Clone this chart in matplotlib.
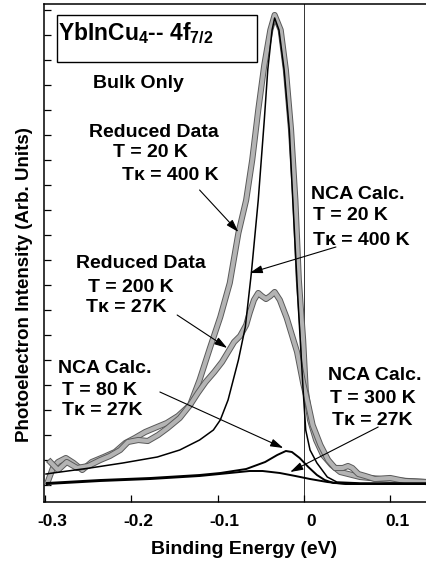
import matplotlib
matplotlib.use('Agg')
import matplotlib.pyplot as plt
import matplotlib.patheffects as pe
from matplotlib.patches import Rectangle
from matplotlib.ticker import MultipleLocator
import matplotlib.transforms as mtrans

# binding energy (eV) and intensity (arb. units)
e_data20 = [-0.297, -0.291, -0.285, -0.276, -0.267, -0.257, -0.246, -0.232, -0.219, -0.207,
            -0.196, -0.184, -0.173, -0.159, -0.146, -0.132, -0.121, -0.109, -0.097, -0.086,
            -0.076, -0.067, -0.060, -0.053, -0.046, -0.039, -0.034, -0.027, -0.021, -0.015,
            -0.010, -0.006, -0.001, 0.002, 0.007, 0.014, 0.022, 0.032, 0.042, 0.065, 0.100, 0.141]
i_data20 = [-22, -8, -2, 2, -3, -10, -2, 3, 8, 17,
            22, 28, 32, 37, 44, 55, 80, 112, 143, 177,
            227, 260, 300, 350, 395, 430, 445, 430, 390, 330,
            260, 180, 120, 70, 40, 20, 5, -5, -12, -17, -20, -22]

e_data200 = [-0.294, -0.285, -0.275, -0.263, -0.250, -0.236, -0.225, -0.213, -0.204, -0.192,
             -0.181, -0.169, -0.158, -0.144, -0.132, -0.123, -0.114, -0.104, -0.095, -0.088,
             -0.081, -0.074, -0.067, -0.063, -0.058, -0.053, -0.049, -0.044, -0.039, -0.034,
             -0.028, -0.020, -0.014, -0.008, -0.001, 0.005, 0.010, 0.019, 0.028, 0.036,
             0.045, 0.051, 0.056, 0.063, 0.071, 0.082, 0.100, 0.117, 0.141]
i_data200 = [-2, -10, -2, -8, -6, 0, 4, 10, 18, 20,
             19, 25, 32, 42, 55, 67, 78, 88, 98, 108,
             118, 124, 135, 147, 160, 167, 164, 161, 164, 168,
             160, 142, 125, 108, 77, 55, 35, 15, 0, -8,
             -8, -6, -8, -14, -16, -19, -18, -21, -22]

e_nca20 = [-0.299, -0.291, -0.248, -0.210, -0.170, -0.144, -0.121, -0.105, -0.097, -0.088,
           -0.076, -0.068, -0.061, -0.053, -0.046, -0.042, -0.037, -0.034, -0.029, -0.023,
           -0.017, -0.013, -0.007, -0.001, 0.002, 0.007, 0.015, 0.027, 0.038, 0.065, 0.141]
i_nca20 = [-14, -13, -8, -3, 3, 10, 20, 30, 40, 60,
           100, 133, 187, 260, 340, 390, 430, 442, 430, 390,
           330, 260, 160, 70, 30, 10, -3, -17, -22, -23, -23]

e_nca80 = [-0.298, -0.236, -0.178, -0.121, -0.097, -0.067, -0.045, -0.031, -0.021, -0.014,
           -0.005, 0.005, 0.015, 0.024, 0.034, 0.065, 0.141]
i_nca80 = [-23, -20, -18, -15, -13, -9, -2, 5, 9, 8,
           2, -7, -15, -20, -23, -24, -24]

e_nca300 = [-0.298, -0.236, -0.178, -0.121, -0.086, -0.063, -0.048, -0.028, -0.010, 0.007,
            0.027, 0.048, 0.141]
i_nca300 = [-24, -21, -19, -16, -13, -11, -11, -13, -16, -19,
            -22, -24, -24]

xticks = [-0.3, -0.2, -0.1, 0, 0.1]
xticklabels = ['-0.3', '-0.2', '-0.1', '0', '0.1']

plt.rcParams['font.family'] = ['Liberation Sans', 'DejaVu Sans']
plt.rcParams['font.weight'] = 'bold'
plt.rcParams['mathtext.fontset'] = 'custom'
plt.rcParams['mathtext.rm'] = 'Liberation Sans:bold'
plt.rcParams['mathtext.bf'] = 'Liberation Sans:bold'
plt.rcParams['mathtext.default'] = 'bf'

fig = plt.figure(figsize=(4.26, 5.64), dpi=100)
ax = fig.add_axes([44/426, 62/564, 382/426, 498/564])

gray_fx = [pe.Stroke(linewidth=4.4, foreground='#5a5a5a'), pe.Normal()]
ax.plot(e_data20, i_data20, color='#b4b4b4', lw=3.0, path_effects=gray_fx, zorder=3)
ax.plot(e_data200, i_data200, color='#b4b4b4', lw=3.0, path_effects=gray_fx, zorder=3)
ax.plot(e_nca20, i_nca20, color='k', lw=1.1, zorder=4)
ax.plot(e_nca80, i_nca80, color='k', lw=1.4, zorder=4)
ax.plot(e_nca300, i_nca300, color='k', lw=1.4, zorder=4)
ax.axvline(0, color='#333333', lw=0.7, zorder=1)

ax.set_xlim(-0.3013, 0.1414)
ax.yaxis.set_major_locator(MultipleLocator(25))
ax.set_yticklabels([])
ax.set_ylim(-42, 456)
ax.set_xticks(xticks)
ax.set_xticklabels(xticklabels, fontsize=12.5, fontweight='bold')
ax.tick_params(axis='both', direction='in', length=5, width=0.9)
ax.tick_params(axis='x', pad=9)
for lab in ax.get_xticklabels():
    lab.set_transform(lab.get_transform() + mtrans.ScaledTranslation(7/100, 0, fig.dpi_scale_trans))
ax.spines['right'].set_visible(False)
for s in ['left', 'bottom', 'top']:
    ax.spines[s].set_linewidth(1.1)

fig.text(244/426, 1 - 550/564, 'Binding Energy (eV)', ha='center', va='center', fontsize=14, fontweight='bold')
fig.text(25/426, 1 - 285/564, 'Photoelectron Intensity (Arb. Units)', ha='center', va='center',
         rotation=90, fontsize=13.5, fontweight='bold')

# title box
ax.add_patch(Rectangle((0.034, 0.884), 0.524, 0.094, transform=ax.transAxes, fill=False, lw=1.0,
                       edgecolor='k', zorder=5))
ax.text(0.037, 0.927, r'YbInCu$_4$-- 4f$_{7/2}$', transform=ax.transAxes, fontsize=16.5,
        fontweight='bold', va='baseline', ha='left')

fs = 14
def label(lines):
    for x, y, s in lines:
        ax.text(x, y, s, fontsize=fs, fontweight='bold', va='baseline', ha='left')

label([(-0.244, 372, 'Bulk Only')])
label([(-0.249, 323, 'Reduced Data'), (-0.221, 303, 'T = 20 K'), (-0.211, 280, 'Tᴋ = 400 K')])
label([(-0.264, 192, 'Reduced Data'), (-0.250, 168, 'T = 200 K'), (-0.253, 148, 'Tᴋ = 27K')])
label([(0.008, 261, 'NCA Calc.'), (0.010, 240, 'T = 20 K'), (0.010, 215, 'Tᴋ = 400 K')])
label([(-0.285, 87, 'NCA Calc.'), (-0.280, 65, 'T = 80 K'), (-0.280, 45, 'Tᴋ = 27K')])
label([(0.028, 80, 'NCA Calc.'), (0.030, 57, 'T = 300 K'), (0.032, 35, 'Tᴋ = 27K')])

arrow = dict(arrowstyle='-|>,head_length=0.55,head_width=0.17', color='k', lw=0.8,
             shrinkA=0, shrinkB=0, mutation_scale=14)
ax.annotate('', xy=(-0.076, 228), xytext=(-0.121, 270), arrowprops=arrow, zorder=6)
ax.annotate('', xy=(-0.063, 187), xytext=(0.037, 213), arrowprops=arrow, zorder=6)
ax.annotate('', xy=(-0.089, 112), xytext=(-0.147, 145), arrowprops=arrow, zorder=6)
ax.annotate('', xy=(-0.024, 12), xytext=(-0.167, 68), arrowprops=arrow, zorder=6)
ax.annotate('', xy=(-0.016, -12), xytext=(0.086, 33), arrowprops=arrow, zorder=6)

fig.savefig('out.png', dpi=100)
